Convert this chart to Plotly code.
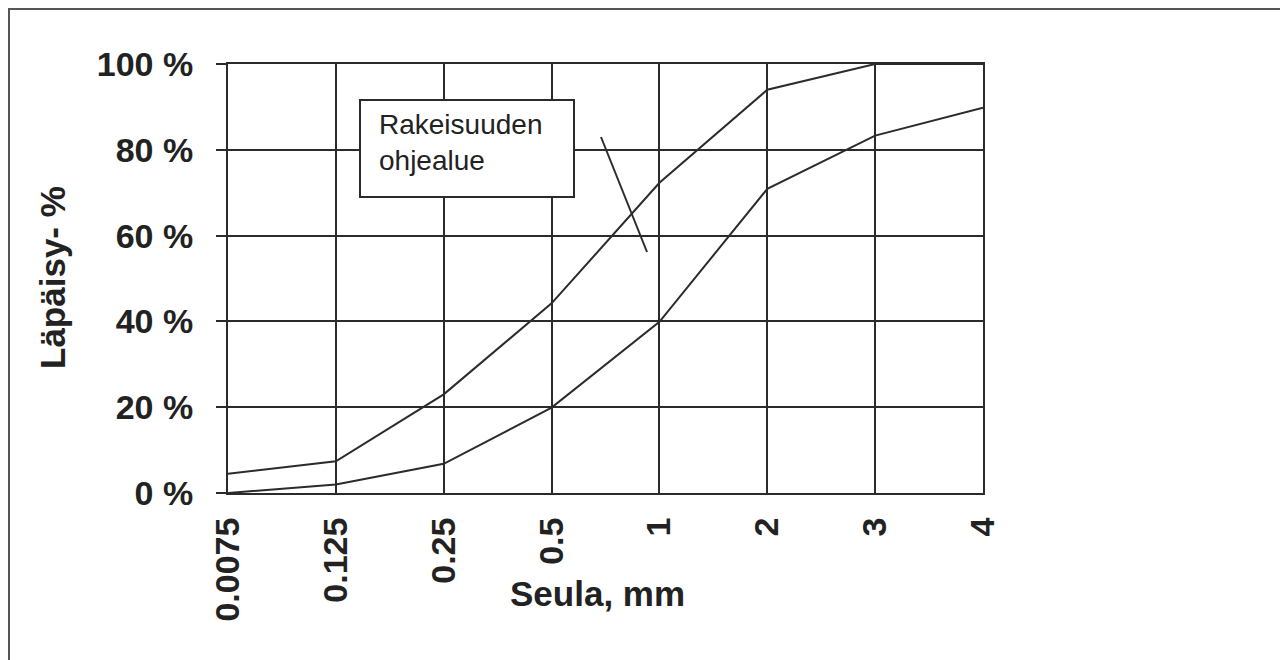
import plotly.graph_objects as go

categories = ["0.0075", "0.125", "0.25", "0.5", "1", "2", "3", "4"]
upper_limit = [4.5, 7.4, 23, 44.2, 72.3, 94, 100, 100]
lower_limit = [0, 2, 6.8, 19.9, 39.9, 70.9, 83.3, 89.8]
y_ticks = [0, 20, 40, 60, 80, 100]

INK = "#2b2b2b"
TXT = "#222222"
FONT = "Liberation Sans, Arial, Helvetica, sans-serif"

fig = go.Figure()
for vals in (upper_limit, lower_limit):
    fig.add_trace(go.Scatter(x=categories, y=vals, mode="lines",
                             line=dict(color=INK, width=2),
                             cliponaxis=False, showlegend=False,
                             hoverinfo="skip"))

# page is rendered with an 8px body margin; work in page pixels
OFF = 8
W, H = 1288 - OFF, 660 - OFF
L, R, T, B = 228, 983, 64, 493  # plot area in page pixels


def px(xp):
    return (xp - L) / (R - L)


def py(yp):
    return (B - yp) / (B - T)


fig.update_layout(
    width=W, height=H,
    margin=dict(l=L - OFF, r=W - (R - OFF), t=T - OFF, b=H - (B - OFF)),
    paper_bgcolor="white", plot_bgcolor="white",
    font=dict(family=FONT, color=TXT),
    xaxis=dict(type="category", range=[0, len(categories) - 1],
               showgrid=True, gridcolor=INK, gridwidth=2,
               showline=True, linecolor=INK, linewidth=2, mirror=True,
               zeroline=False, tickangle=-90, ticks="",
               ticklabelstandoff=9,
               tickfont=dict(family=FONT, size=34, color=TXT, weight="bold")),
    yaxis=dict(range=[0, 100], tickvals=y_ticks,
               ticktext=[f"{v} %" for v in y_ticks],
               showgrid=True, gridcolor=INK, gridwidth=2,
               showline=True, linecolor=INK, linewidth=2, mirror=True,
               zeroline=False, ticks="outside", ticklen=10, tickwidth=2,
               tickcolor=INK, ticklabelstandoff=16,
               tickfont=dict(family=FONT, size=34, color=TXT, weight="bold")),
    shapes=[
        # outer frame
        dict(type="rect", xref="paper", yref="paper",
             x0=px(OFF + 1), x1=px(1286), y0=py(668), y1=py(OFF + 1),
             line=dict(color="#555555", width=2), layer="below"),
        # legend box
        dict(type="rect", xref="paper", yref="paper",
             x0=px(360), x1=px(574), y0=py(197), y1=py(100),
             line=dict(color=INK, width=2), fillcolor="white", layer="above"),
        # pointer line
        dict(type="line", xref="paper", yref="paper",
             x0=px(601), y0=py(137), x1=px(647), y1=py(252),
             line=dict(color=INK, width=2), layer="above"),
    ],
    annotations=[
        dict(text="Rakeisuuden<br>ohjealue", xref="paper", yref="paper",
             x=px(377), y=py(107), xanchor="left", yanchor="top",
             align="left", showarrow=False,
             font=dict(family=FONT, size=28, color=TXT)),
        dict(text="Seula, mm", xref="paper", yref="paper",
             x=px(597), y=py(593), xanchor="center", yanchor="middle",
             showarrow=False,
             font=dict(family=FONT, size=35, color=TXT, weight="bold")),
        dict(text="Läpäisy- %", xref="paper", yref="paper",
             x=px(52), y=py(278), xanchor="center", yanchor="middle",
             textangle=-90, showarrow=False,
             font=dict(family=FONT, size=35, color=TXT, weight="bold")),
    ],
)

fig.write_html("out.html")
